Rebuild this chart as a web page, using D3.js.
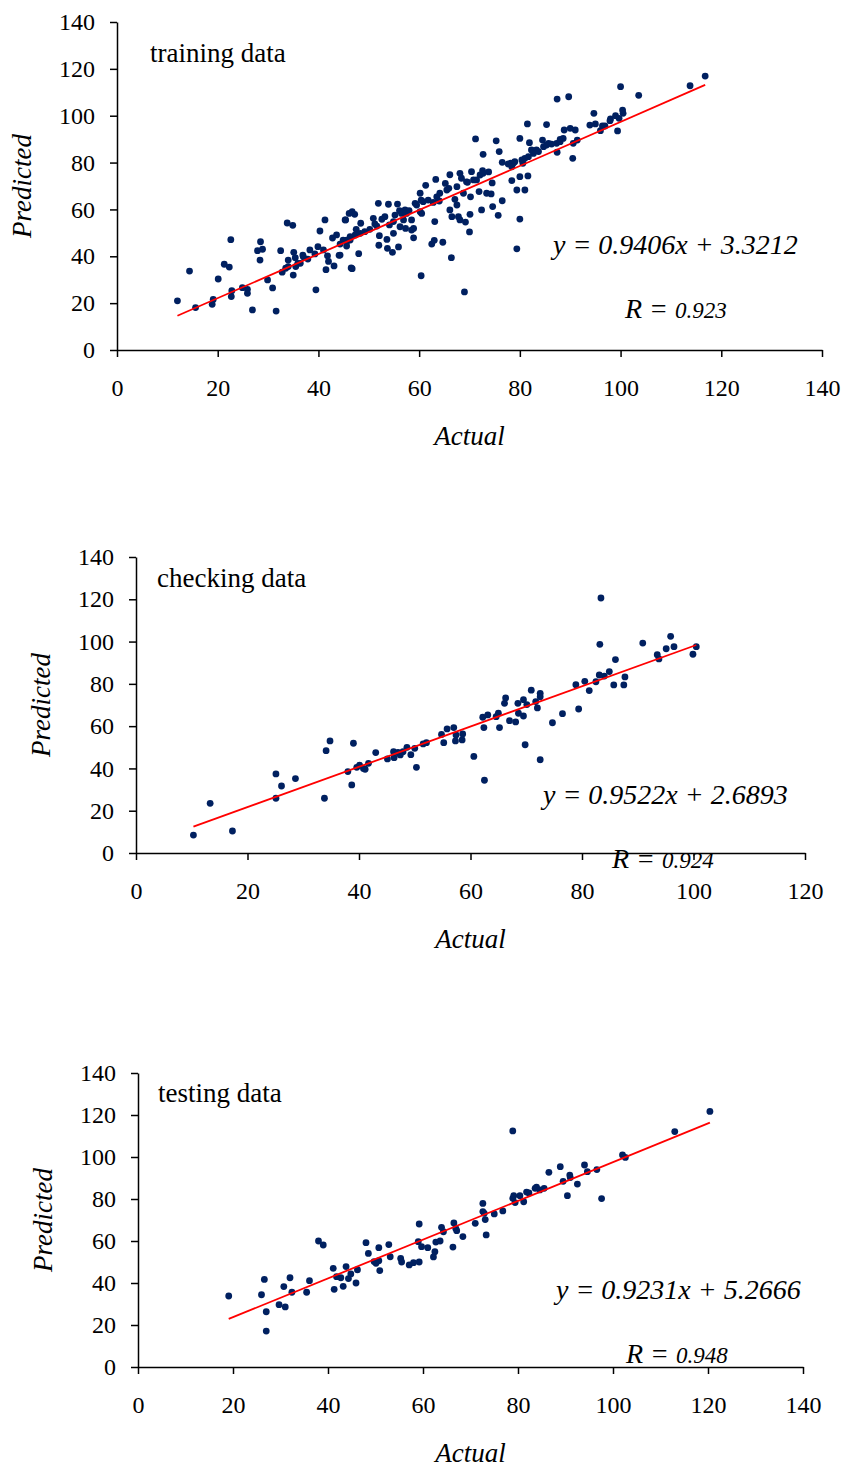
<!DOCTYPE html>
<html>
<head>
<meta charset="utf-8">
<script src="https://cdn.jsdelivr.net/npm/d3@7"></script>
<style>
  body { margin: 0; background: #fff; }
  svg { display: block; }
  text, tspan { font-family: "Liberation Serif", "Times New Roman", serif; fill: #000; }
  .axis path, .axis line { stroke: #000; stroke-width: 1.5px; }
  .axis text { font-size: 24px; }
</style>
</head>
<body>
<div id="chart"></div>
<script>
// values: [actual, predicted]
const trainingPoints = [
  [12.0,21.0],[14.4,33.7],[15.6,18.1],[18.9,19.5],[19.1,21.6],[20.1,30.3],[21.3,36.6],[22.3,35.4],[22.6,47.1],[22.7,22.8],
  [22.8,25.3],[24.9,26.6],[25.9,25.9],[25.9,24.2],[26.9,17.1],[27.9,42.4],[28.9,43.0],[28.4,38.4],[28.5,46.2],[29.9,29.9],
  [30.9,26.5],[31.6,16.6],[32.5,42.4],[32.8,33.2],[33.5,34.9],[34.0,35.6],[33.8,54.2],[34.9,53.2],[35.0,32.0],[35.1,41.7],
  [35.4,39.4],[35.5,35.6],[35.9,37.0],[36.4,37.0],[36.9,40.5],[37.9,38.8],[39.3,41.0],[39.5,25.7],[39.9,44.1],[40.3,50.8],
  [41.3,55.5],[41.0,42.7],[41.8,40.2],[42.0,37.8],[41.5,34.3],[43.1,35.9],[42.8,47.8],[43.6,49.1],[44.1,40.4],[44.3,45.2],
  [45.3,55.5],[45.6,44.4],[46.1,58.3],[46.5,35.0],[44.9,46.9],[46.3,48.4],[38.3,42.7],[37.0,39.8],[34.0,38.4],
  [44.3,40.5],[45.4,55.5],[46.7,59.0],[47.2,57.9],[46.7,34.7],[47.5,51.5],[48.0,41.1],[48.4,54.1],[45.6,46.2],[46.3,46.9],
  [50.9,56.2],[51.9,62.6],[51.6,52.9],[52.1,48.8],[52.0,44.7],[53.6,47.2],[53.7,43.4],[54.7,41.7],[53.9,62.2],[54.1,53.4],
  [54.9,54.8],[55.7,62.3],[56.1,59.5],[55.9,44.0],[56.5,58.3],[56.9,55.5],[57.3,51.9],[58.0,59.5],[58.5,55.5],[58.9,51.9],
  [58.9,47.9],[60.2,66.9],[60.4,64.0],[60.5,58.3],[60.4,31.7],[61.3,70.3],[62.5,45.2],[63.0,46.8],[63.1,54.8],[63.3,72.8],
  [62.8,63.0],[63.5,65.4],[64.0,63.6],[64.7,46.0],[65.2,71.1],[65.9,69.0],[66.1,74.8],[66.4,39.4],[66.1,59.8],[66.5,56.9],
  [67.1,64.3],[67.5,61.9],[67.8,56.9],[68.1,75.4],[68.1,55.5],[68.4,73.3],[68.8,66.9],[69.0,24.8],[69.2,54.6],[69.6,71.6],
  [70.0,50.4],[70.2,65.4],[70.1,57.9],[70.4,76.1],[71.2,90.1],[71.4,72.6],[71.9,67.6],[72.1,74.7],[72.6,76.5],[72.4,59.8],
  [72.7,83.5],[73.4,66.9],[73.8,76.0],[74.3,66.6],[74.5,71.3],[74.6,61.2],[75.3,89.3],[75.7,57.5],[75.9,84.7],[76.5,63.7],
  [76.5,80.1],[78.4,72.3],[78.2,79.7],[78.7,79.7],[79.4,68.3],[79.4,43.2],[80.0,55.9],[80.0,90.3],[80.0,74.0],[80.6,79.7],
  [81.0,68.3],[81.5,96.5],[81.6,74.3],[81.9,88.5],[82.3,85.4],[83.3,85.4],[84.5,89.6],[85.3,96.2],[85.7,88.2],[87.4,107.1],
  [87.4,84.4],[88.0,89.9],[88.8,93.9],[89.7,108.1],[90.0,94.6],[90.5,81.8],[91.0,93.9],[91.4,89.6],
  [45.6,46.9],[47.3,49.1],[48.3,49.8],[49.2,50.5],[50.2,51.5],[51.2,53.8],[52.6,55.8],[53.2,56.9],[55.2,57.6],[57.2,59.8],
  [59.5,61.9],[60.8,63.3],[61.8,64.0],[64.1,66.9],[65.5,68.3],[67.5,69.7],[69.4,71.8],[70.8,72.6],[72.7,75.4],[57.5,58.3],
  [60.2,59.0],[58.5,51.2],[56.2,52.6],[54.9,49.8],[59.2,62.6],
  [77.7,79.4],[78.4,78.2],[79.0,80.4],[80.4,81.1],[81.0,81.8],[81.7,82.5],[82.7,83.9],[83.7,84.7],[84.7,86.8],[85.3,87.5],
  [86.3,87.9],[87.3,88.2],[88.0,88.9],[88.6,90.3],
  [90.6,88.2],[93.9,96.0],[94.7,101.0],[95.0,96.5],[96.0,93.6],[96.4,95.6],[96.9,95.6],[97.9,97.9],[98.0,98.6],[99.0,100.0],
  [99.4,93.5],[99.7,98.9],[100.0,112.4],[100.4,102.4],[100.5,101.0],[103.6,108.7],[113.8,112.8],[116.8,116.9]
];

const checkingPoints = [
  [10.3,8.5],[13.3,23.5],[17.3,10.4],[25.1,37.4],[25.1,25.9],[26.1,31.7],[28.6,35.2],[33.8,25.9],[34.1,48.4],[34.8,53.0],
  [38.0,38.5],[38.7,32.2],[39.0,51.9],[39.6,40.5],[40.1,41.6],[40.8,40.0],[41.1,39.6],[41.7,42.4],[43.0,47.5],[45.1,44.5],
  [46.2,47.9],[46.3,45.1],[47.0,47.6],[47.4,46.4],[47.9,47.9],[48.6,50.0],[49.3,46.5],[50.0,49.5],[50.3,40.5],[51.5,51.6],
  [52.1,52.2],[54.8,56.1],[55.2,52.2],[55.8,58.7],[57.0,59.3],[57.4,55.8],[57.3,53.0],[58.5,53.5],[58.6,56.3],[60.6,45.7],
  [62.2,64.2],[62.4,59.3],[63.1,65.3],[62.5,34.4],[64.6,64.5],[65.0,66.1],[65.2,59.3],[66.1,70.8],[66.3,73.3],[67.0,62.6],
  [68.1,62.0],[68.5,70.8],[68.6,66.1],[69.5,72.5],[69.5,64.8],[70.1,70.2],[69.8,51.2],[70.9,77.0],[71.7,71.6],[72.0,68.6],
  [72.5,75.5],[72.5,73.9],[72.5,44.1],[74.7,61.6],[76.5,65.9],[78.9,79.6],[79.4,68.1],[80.5,81.2],[81.3,76.8],[82.5,81.0],
  [83.1,84.2],[83.2,98.7],[83.4,120.6],[84.0,83.7],[84.9,85.8],[85.7,79.5],[86.0,91.5],[87.5,79.5],[87.7,83.3],[90.9,99.3],
  [93.5,93.8],[93.8,91.8],[95.1,96.6],[95.9,102.5],[96.5,97.6],[99.9,94.0],[100.5,97.6]
];

const testingPoints = [
  [19.1,33.8],[26.0,34.4],[26.6,41.7],[27.0,26.3],[27.0,17.1],[29.7,29.7],[30.7,38.3],[31.0,28.6],[32.0,42.5],[32.4,35.6],
  [35.5,35.6],[36.1,41.1],[38.0,60.0],[39.0,58.1],[41.1,47.0],[41.3,37.0],[41.8,43.0],[42.7,42.5],[43.2,38.4],[43.8,47.8],
  [44.3,42.1],[44.8,44.3],[45.9,40.0],[46.2,46.3],[48.0,59.2],[48.5,54.1],[49.7,50.2],[50.1,49.4],[50.7,50.6],[50.7,56.8],
  [50.9,45.9],[52.8,58.3],[53.1,52.5],[55.3,51.7],[55.5,50.0],[57.1,48.6],[58.0,49.7],[59.2,50.0],[59.2,68.1],[59.0,59.7],
  [59.7,57.3],[61.0,56.8],[62.2,52.4],[62.5,54.9],[62.7,59.5],[63.6,60.0],[63.9,66.5],[64.3,64.4],[66.3,57.1],[66.5,68.6],
  [66.9,66.0],[67.1,64.9],[68.4,62.1],[71.0,68.4],[72.6,77.9],[72.6,74.0],[73.1,70.2],[72.9,73.2],[73.3,62.9],[75.0,72.9],
  [76.8,74.3],[78.9,112.4],[78.9,80.3],[79.1,81.6],[79.4,78.3],[80.4,81.6],[81.2,78.7],[81.8,83.3],[82.3,82.9],[83.6,85.1],
  [83.9,85.7],[84.6,84.3],[85.5,85.1],[86.5,92.7],[88.9,95.4],[89.5,88.4],[90.4,81.6],[90.9,91.4],[91.0,90.2],[92.5,87.1],
  [94.0,96.2],[94.6,93.0],[96.6,94.0],[97.6,80.2],[102.0,101.0],[102.6,99.8],[113.0,112.1],[120.4,121.7]
];

const panelNames = ["training data", "checking data", "testing data"];
const slopes = [0.9406, 0.9522, 0.9231];
const intercepts = [3.3212, 2.6893, 5.2666];
const rValues = ["0.923", "0.924", "0.948"];
const xMaxes = [140, 120, 140];
const yMax = 140;
const tickStep = 20;

// page layout (pixels)
const layout = [
  { left: 117, right: 822, top: 22, bottom: 350, nameX: 33, nameY: 40, eqX: 553, eqY: 254, rX: 625, rY: 318 },
  { left: 136, right: 805, top: 557, bottom: 853, nameX: 21, nameY: 30, eqX: 543, eqY: 804, rX: 612, rY: 868 },
  { left: 138, right: 803, top: 1073, bottom: 1367, nameX: 20, nameY: 29, eqX: 556, eqY: 1299, rX: 626, rY: 1363 }
];

const svg = d3.select("#chart").append("svg")
  .attr("width", 843)
  .attr("height", 1468);

[trainingPoints, checkingPoints, testingPoints].forEach((pts, i) => {
  const L = layout[i];
  const x = d3.scaleLinear().domain([0, xMaxes[i]]).range([L.left, L.right]);
  const y = d3.scaleLinear().domain([0, yMax]).range([L.bottom, L.top]);

  const g = svg.append("g");

  g.append("g")
    .attr("class", "axis")
    .attr("transform", `translate(0,${L.bottom})`)
    .call(d3.axisBottom(x).tickValues(d3.range(0, xMaxes[i] + 1, tickStep))
      .tickSize(7).tickSizeOuter(0).tickPadding(22))
    .call(a => a.selectAll("text").attr("font-family", null));

  g.append("g")
    .attr("class", "axis")
    .attr("transform", `translate(${L.left},0)`)
    .call(d3.axisLeft(y).tickValues(d3.range(0, yMax + 1, tickStep))
      .tickSize(7).tickSizeOuter(0).tickPadding(15))
    .call(a => a.selectAll("text").attr("font-family", null));

  // dots
  g.append("g").selectAll("circle")
    .data(pts)
    .enter().append("circle")
    .attr("cx", d => x(d[0]))
    .attr("cy", d => y(d[1]))
    .attr("r", 3.4)
    .style("fill", "#002060");

  // trend line over the data range
  const xr = d3.extent(pts, d => d[0]);
  g.append("line")
    .attr("x1", x(xr[0])).attr("y1", y(slopes[i] * xr[0] + intercepts[i]))
    .attr("x2", x(xr[1])).attr("y2", y(slopes[i] * xr[1] + intercepts[i]))
    .style("stroke", "#ff0000")
    .style("stroke-width", 1.8);

  g.append("text")
    .attr("x", L.left + L.nameX)
    .attr("y", L.top + L.nameY)
    .style("font-size", "27px")
    .text(panelNames[i]);

  g.append("text")
    .attr("x", L.eqX)
    .attr("y", L.eqY)
    .style("font-size", "28px")
    .style("font-style", "italic")
    .text(`y = ${slopes[i]}x + ${intercepts[i]}`);

  const rt = g.append("text")
    .attr("x", L.rX)
    .attr("y", L.rY)
    .style("font-style", "italic");
  rt.append("tspan").style("font-size", "28px").text("R = ");
  rt.append("tspan").style("font-size", "23px").text(rValues[i]);

  g.append("text")
    .attr("x", (L.left + L.right) / 2)
    .attr("y", L.bottom + 95)
    .attr("text-anchor", "middle")
    .style("font-size", "27px")
    .style("font-style", "italic")
    .text("Actual");

  g.append("text")
    .attr("transform", `translate(${L.left - 86},${(L.top + L.bottom) / 2}) rotate(-90)`)
    .attr("text-anchor", "middle")
    .style("font-size", "27px")
    .style("font-style", "italic")
    .text("Predicted");
});
</script>
</body>
</html>
